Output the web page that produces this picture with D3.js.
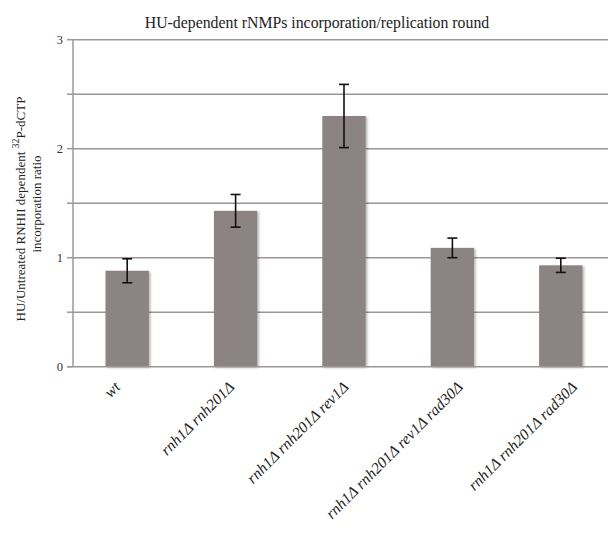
<!DOCTYPE html>
<html>
<head>
<meta charset="utf-8">
<script src="https://cdn.jsdelivr.net/npm/d3@7.9.0/dist/d3.min.js"></script>
<style>
  body { margin: 0; background: #fff; }
  svg text { font-family: "Liberation Serif", "Times New Roman", serif; }
</style>
</head>
<body>
<svg width="608" height="533"></svg>
<script>
// chart data
const strains = ["wt", "rnh1Δ rnh201Δ", "rnh1Δ rnh201Δ rev1Δ", "rnh1Δ rnh201Δ rev1Δ rad30Δ", "rnh1Δ rnh201Δ rad30Δ"];
const ratios = [0.88, 1.43, 2.30, 1.09, 0.93];
const errors = [0.11, 0.15, 0.29, 0.09, 0.065];
const gridTicks = [0, 0.5, 1, 1.5, 2, 2.5, 3];
const labelTicks = [0, 1, 2, 3];

const svg = d3.select("svg");

let x = d3.scaleBand()
    .domain(strains)
    .range([73, 615])
    .paddingInner(0.6)
    .paddingOuter(0.3);

let y = d3.scaleLinear().domain([0, 3]).range([366.7, 39.7]);

// labels drift a little to the right of the bars in the original
let labelX = d3.scalePoint().domain(strains).range([121, 578]);

// soft shadow for bars
const defs = svg.append("defs");
defs.append("filter")
    .attr("id", "shadow")
    .attr("x", "-20%").attr("y", "-20%").attr("width", "140%").attr("height", "140%")
    .append("feDropShadow")
    .attr("dx", 1.5).attr("dy", 1)
    .attr("stdDeviation", 1.2)
    .attr("flood-color", "#000")
    .attr("flood-opacity", 0.3);

// gridlines
svg.append("g")
    .selectAll("line")
    .data(gridTicks.filter(d => d > 0))
    .enter()
    .append("line")
    .attr("x1", 73).attr("x2", 608)
    .attr("y1", d => y(d)).attr("y2", d => y(d))
    .attr("stroke", "#9e9696")
    .attr("stroke-width", 1.5);

// y axis ticks
svg.append("g")
    .selectAll("line")
    .data(gridTicks)
    .enter()
    .append("line")
    .attr("x1", 67).attr("x2", 73)
    .attr("y1", d => y(d)).attr("y2", d => y(d))
    .attr("stroke", "#9e9696")
    .attr("stroke-width", 1.5);

svg.append("g")
    .selectAll("text")
    .data(labelTicks)
    .enter()
    .append("text")
    .attr("x", 63)
    .attr("y", d => y(d))
    .attr("dy", "0.35em")
    .attr("text-anchor", "end")
    .attr("font-size", 12.5)
    .attr("fill", "#333")
    .text(d => d);

// bars
svg.append("g")
    .selectAll("rect")
    .data(ratios)
    .enter()
    .append("rect")
    .attr("x", (d, i) => x(strains[i]))
    .attr("y", d => y(d))
    .attr("width", x.bandwidth())
    .attr("height", d => y(0) - y(d))
    .attr("fill", "#8c8483")
    .attr("filter", "url(#shadow)");

// axis lines
svg.append("line")
    .attr("x1", 73).attr("x2", 73)
    .attr("y1", y(3)).attr("y2", y(0))
    .attr("stroke", "#9e9696").attr("stroke-width", 1.5);
svg.append("line")
    .attr("x1", 67).attr("x2", 608)
    .attr("y1", y(0)).attr("y2", y(0))
    .attr("stroke", "#9e9696").attr("stroke-width", 1.5);

// error bars
const err = svg.append("g").attr("stroke", "#111").attr("stroke-width", 1.6);
ratios.forEach((v, i) => {
    const cx = x(strains[i]) + x.bandwidth() / 2;
    const hi = y(v + errors[i]);
    const lo = y(v - errors[i]);
    err.append("line").attr("x1", cx).attr("x2", cx).attr("y1", hi).attr("y2", lo);
    err.append("line").attr("x1", cx - 5).attr("x2", cx + 5).attr("y1", hi).attr("y2", hi);
    err.append("line").attr("x1", cx - 5).attr("x2", cx + 5).attr("y1", lo).attr("y2", lo);
});

// category labels, rotated
svg.append("g")
    .selectAll("text")
    .data(strains)
    .enter()
    .append("text")
    .attr("transform", d => `translate(${labelX(d)},388) rotate(-45)`)
    .attr("text-anchor", "end")
    .attr("font-size", 15.6)
    .attr("font-style", "italic")
    .attr("fill", "#222")
    .text(d => d);

// title
svg.append("text")
    .attr("x", 317)
    .attr("y", 28)
    .attr("text-anchor", "middle")
    .attr("font-size", 15.8)
    .attr("fill", "#222")
    .text("HU-dependent rNMPs incorporation/replication round");

// y axis title (two lines)
const yt1 = svg.append("text")
    .attr("transform", "translate(25,209) rotate(-90)")
    .attr("text-anchor", "middle")
    .attr("font-size", 13)
    .attr("fill", "#222");
yt1.append("tspan").text("HU/Untreated RNHII dependent ");
yt1.append("tspan").attr("font-size", 10).attr("dy", -6).text("32");
yt1.append("tspan").attr("dy", 6).text("P-dCTP");

svg.append("text")
    .attr("transform", "translate(41,204) rotate(-90)")
    .attr("text-anchor", "middle")
    .attr("font-size", 13)
    .attr("fill", "#222")
    .text("incorporation ratio");
</script>
</body>
</html>
